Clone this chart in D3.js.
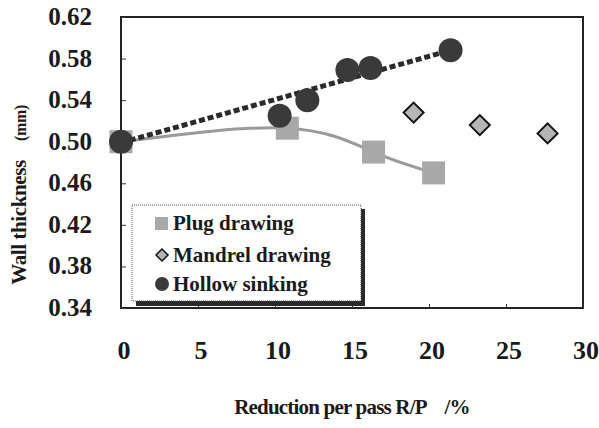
<!DOCTYPE html>
<html>
<head>
<meta charset="utf-8">
<script src="https://cdn.jsdelivr.net/npm/d3@7"></script>
<style>
  body { margin: 0; background: #fff; }
</style>
</head>
<body>
<svg id="chart" width="599" height="428" font-family="'Liberation Serif', 'Times New Roman', serif" font-weight="700">
</svg>
<script>
// reduction per pass (%) and wall thickness (mm)
const plugX = [0, 10.8, 16.4, 20.3];
const plugY = [0.500, 0.513, 0.490, 0.470];

const mandrelX = [19.0, 23.3, 27.7];
const mandrelY = [0.528, 0.516, 0.508];

const hollowX = [0, 10.3, 12.1, 14.7, 16.2, 21.4];
const hollowY = [0.500, 0.525, 0.540, 0.569, 0.571, 0.588];

// dotted trend line for hollow sinking
const trendX = [0, 21.4];
const trendY = [0.499, 0.588];

const xTicks = [0, 5, 10, 15, 20, 25, 30];
const yTicks = [0.34, 0.38, 0.42, 0.46, 0.50, 0.54, 0.58, 0.62];

const legendLabels = ["Plug drawing", "Mandrel drawing", "Hollow sinking"];

const svg = d3.select("#chart");

const pLeft = 121, pRight = 583, pTop = 17, pBottom = 308;

const x = d3.scaleLinear().domain([0, 30]).range([pLeft, pRight]);
const y = d3.scaleLinear().domain([0.34, 0.62]).range([pBottom, pTop]);

// frame
svg.append("rect")
   .attr("x", pLeft).attr("y", pTop)
   .attr("width", pRight - pLeft).attr("height", pBottom - pTop)
   .attr("fill", "none").attr("stroke", "#222").attr("stroke-width", 2);

// inward ticks (tick marks only, labels drawn separately)
svg.append("g")
   .attr("transform", `translate(${pLeft},0)`)
   .call(d3.axisRight(y).tickValues(yTicks).tickSize(5).tickFormat(""))
   .call(g => g.select(".domain").remove())
   .call(g => g.attr("font-family", null))
   .selectAll("line").attr("stroke", "#333");

svg.append("g")
   .attr("transform", `translate(0,${pBottom})`)
   .call(d3.axisTop(x).tickValues(xTicks).tickSize(4).tickFormat(""))
   .call(g => g.select(".domain").remove())
   .call(g => g.attr("font-family", null))
   .selectAll("line").attr("stroke", "#333");

// tick labels
svg.append("g").selectAll("text")
   .data(yTicks)
   .enter()
   .append("text")
   .attr("x", 92)
   .attr("y", d => y(d) + 8)
   .attr("text-anchor", "end")
   .attr("font-size", 25)
   .attr("fill", "#1a1a1a")
   .text(d => d3.format(".2f")(d));

svg.append("g").selectAll("text")
   .data(xTicks)
   .enter()
   .append("text")
   .attr("x", d => x(d) + 3)
   .attr("y", 359)
   .attr("text-anchor", "middle")
   .attr("font-size", 26)
   .attr("fill", "#1a1a1a")
   .text(d => d);

// axis titles
svg.append("text")
   .attr("x", 352).attr("y", 414)
   .attr("text-anchor", "middle")
   .attr("font-size", 21)
   .attr("letter-spacing", -0.8)
   .attr("fill", "#1a1a1a")
   .text("Reduction per pass R/P\u00a0\u00a0\u00a0\u00a0/%");

const yt = svg.append("text")
   .attr("transform", "translate(26,195) rotate(-90)")
   .attr("text-anchor", "middle")
   .attr("font-size", 21)
   .attr("letter-spacing", -0.4)
   .attr("fill", "#1a1a1a");
yt.append("tspan").text("Wall thickness\u00a0\u00a0\u00a0\u00a0");
yt.append("tspan").attr("font-size", 16).text("(mm)");

// plug drawing curve
const plugPts = plugX.map((d, i) => [d, plugY[i]]);
svg.append("path")
   .datum(plugPts)
   .attr("d", d3.line().x(d => x(d[0])).y(d => y(d[1])).curve(d3.curveNatural))
   .attr("fill", "none")
   .attr("stroke", "#9a9a9a")
   .attr("stroke-width", 3);

// markers
const sq = 23;
svg.append("g").selectAll("rect")
   .data(plugPts)
   .enter()
   .append("rect")
   .attr("x", d => x(d[0]) - sq / 2)
   .attr("y", d => y(d[1]) - sq / 2)
   .attr("width", sq).attr("height", sq)
   .attr("fill", "#a8a8a8");

svg.append("g").selectAll("path")
   .data(mandrelX.map((d, i) => [d, mandrelY[i]]))
   .enter()
   .append("path")
   .attr("transform", d => `translate(${x(d[0])},${y(d[1])})`)
   .attr("d", "M0,-10L10,0L0,10L-10,0Z")
   .attr("fill", "#b5b5b5")
   .attr("stroke", "#111")
   .attr("stroke-width", 2);

// hollow sinking trend and points
svg.append("path")
   .datum(trendX.map((d, i) => [d, trendY[i]]))
   .attr("d", d3.line().x(d => x(d[0])).y(d => y(d[1])))
   .attr("stroke", "#2a2a2a")
   .attr("stroke-width", 5)
   .attr("stroke-dasharray", "6,3");

svg.append("g").selectAll("circle")
   .data(hollowX.map((d, i) => [d, hollowY[i]]))
   .enter()
   .append("circle")
   .attr("cx", d => x(d[0]))
   .attr("cy", d => y(d[1]))
   .attr("r", 12)
   .attr("fill", "#3a3a3a");

// legend
const lg = svg.append("g").attr("transform", "translate(132,205)");
lg.append("rect")
  .attr("x", 4).attr("y", 4).attr("width", 229).attr("height", 97)
  .attr("fill", "#2a2a2a");
lg.append("rect")
  .attr("x", 0).attr("y", 0).attr("width", 229).attr("height", 96)
  .attr("fill", "#fff").attr("stroke", "#555").attr("stroke-width", 1)
  .attr("stroke-dasharray", "1,1");

const rowY = [18, 50, 79];
lg.append("rect")
  .attr("x", 23).attr("y", rowY[0] - 6).attr("width", 13).attr("height", 13)
  .attr("fill", "#a8a8a8");
lg.append("path")
  .attr("transform", `translate(30,${rowY[1]})`)
  .attr("d", "M0,-6L6,0L0,6L-6,0Z")
  .attr("fill", "#b5b5b5").attr("stroke", "#111").attr("stroke-width", 1.5);
lg.append("circle")
  .attr("cx", 30).attr("cy", rowY[2]).attr("r", 7)
  .attr("fill", "#3a3a3a");

lg.selectAll(".lgText")
  .data(legendLabels)
  .enter()
  .append("text")
  .attr("class", "lgText")
  .attr("x", 41)
  .attr("y", (d, i) => rowY[i] + 7)
  .attr("font-size", 21)
  .attr("fill", "#1a1a1a")
  .text(d => d);
</script>
</body>
</html>
